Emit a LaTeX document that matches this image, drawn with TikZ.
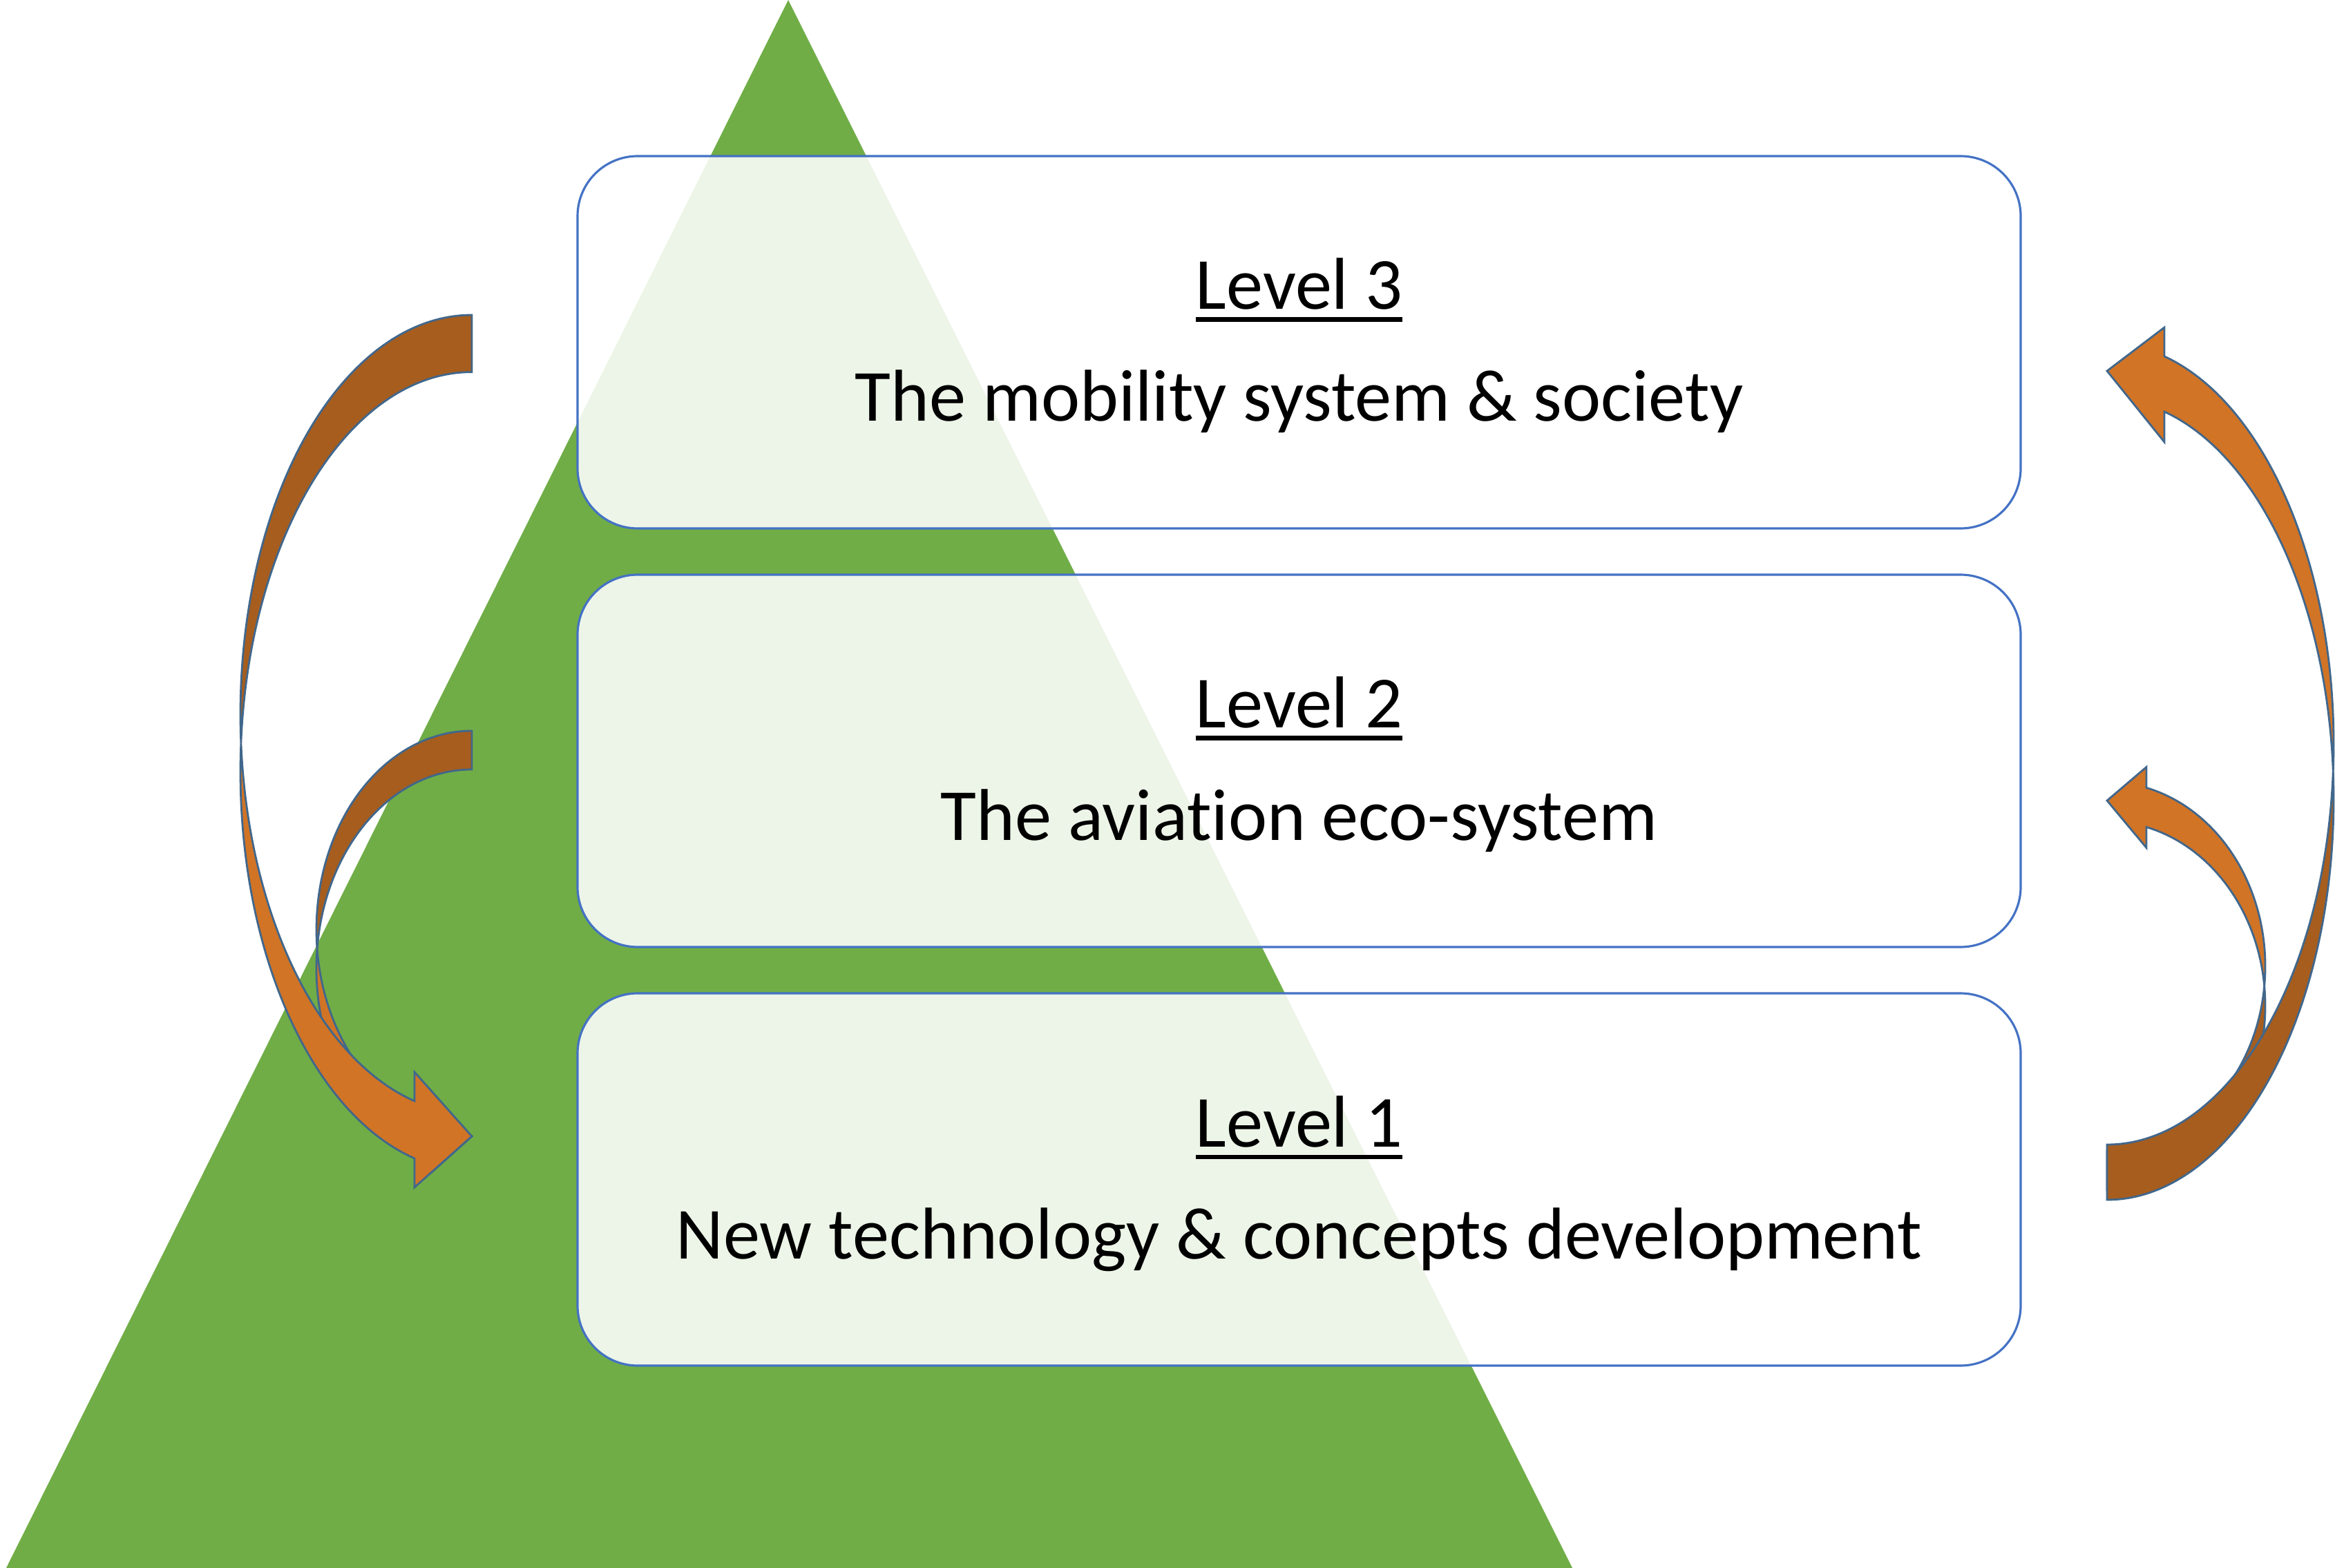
\documentclass[tikz,border=0pt]{standalone}
\usepackage{fontspec}
\setmainfont{Carlito}[Ligatures=NoCommon]
\usepackage{tikz}
\usetikzlibrary{positioning}

\definecolor{pyramidgreen}{RGB}{112,173,71}
\definecolor{boxblue}{RGB}{68,114,196}
\definecolor{arroworange}{RGB}{209,116,37}
\definecolor{arrowbrown}{RGB}{166,93,30}
\definecolor{arrowedge}{RGB}{65,103,140}

% heavier underline for the level titles
\newcommand{\levelul}[1]{%
    \setbox0\hbox{#1}%
    \rlap{\rule[-0.18cm]{\wd0}{0.065cm}}\box0}

\begin{document}
\begin{tikzpicture}[
    levelbox/.style={
        rectangle,
        rounded corners=0.87cm,
        draw=boxblue,
        line width=0.9pt,
        fill=white,
        fill opacity=0.88,
        minimum width=20.89cm,
        minimum height=5.39cm,
        inner sep=0pt
    },
    leveltitle/.style={
        anchor=base,
        font=\fontsize{30.25}{36}\selectfont
    },
    leveldesc/.style={
        anchor=base,
        font=\fontsize{30.25}{36}\selectfont
    },
    backband/.style={
        fill=arrowbrown,
        draw=arrowedge,
        line width=0.8pt
    },
    frontband/.style={
        fill=arroworange,
        draw=arrowedge,
        line width=0.8pt
    }
]
\useasboundingbox (0,0) rectangle (33.80,-22.70);

% Pyramid behind the levels
\fill[pyramidgreen] (11.41,0) -- (22.76,-22.70) -- (0.09,-22.70) -- cycle;

% Level boxes (see-through, so the pyramid shows faintly)
\node[levelbox] (lvl3) at (18.805,-4.955) {};
\node[levelbox] (lvl2) at (18.805,-11.015) {};
\node[levelbox] (lvl1) at (18.805,-17.075) {};

% Level titles and descriptions
\node[leveltitle] (title3) at (18.805,-4.48)  {\levelul{Level 3}};
\node[leveldesc]  (desc3)  at (18.805,-6.10)  {The mobility system \& society};
\node[leveltitle] (title2) at (18.805,-10.54) {\levelul{Level 2}};
\node[leveldesc]  (desc2)  at (18.805,-12.16) {The aviation eco-system};
\node[leveltitle] (title1) at (18.805,-16.60) {\levelul{Level 1}};
\node[leveldesc]  (desc1)  at (18.805,-18.22) {New technology \& concepts development};

% Left: small curved arrow, level 2 down to level 1
\begin{scope}[shift={(6.83,-13.46)}]
\path[backband] (90:2.25 and 2.88)
    arc[start angle=90, end angle=185.58, x radius=2.25, y radius=2.88]
    arc[start angle=174.42, end angle=90, x radius=2.25, y radius=2.88] -- cycle;
\path[frontband] (185.58:2.25 and 2.88)
    arc[start angle=185.58, end angle=255.33, x radius=2.25, y radius=2.88]
    -- (-0.57,-2.64) -- (0,-2.99) -- (-0.57,-3.50) -- (-0.57,-3.346)
    arc[start angle=255.33, end angle=174.42, x radius=2.25, y radius=2.88] -- cycle;
\end{scope}

% Left: big curved arrow, level 3 down to level 1
\begin{scope}[shift={(6.83,-10.34)}]
\path[backband] (90:3.35 and 5.78)
    arc[start angle=90, end angle=184.1, x radius=3.35, y radius=5.78]
    arc[start angle=175.9, end angle=90, x radius=3.35, y radius=5.78] -- cycle;
\path[frontband] (184.1:3.35 and 5.78)
    arc[start angle=184.1, end angle=255.65, x radius=3.35, y radius=5.78]
    -- (-0.83,-5.18) -- (0,-6.11) -- (-0.83,-6.85) -- (-0.83,-6.43)
    arc[start angle=255.65, end angle=175.9, x radius=3.35, y radius=5.78] -- cycle;
\end{scope}

% Right: small curved arrow, level 1 up to level 2
\begin{scope}[shift={(30.50,-13.99)}]
\path[backband] (-6.13:2.29 and 2.67)
    arc[start angle=-6.13, end angle=-90, x radius=2.29, y radius=2.67]
    -- (0,-3.24)
    arc[start angle=-90, end angle=6.13, x radius=2.29, y radius=2.67] -- cycle;
\path[frontband] (-6.13:2.29 and 2.67)
    arc[start angle=-6.13, end angle=75.59, x radius=2.29, y radius=2.67]
    -- (0.57,2.886) -- (0,2.40) -- (0.57,1.716) -- (0.57,2.016)
    arc[start angle=75.59, end angle=6.13, x radius=2.29, y radius=2.67] -- cycle;
\end{scope}

% Right: big curved arrow, level 1 up to level 3
\begin{scope}[shift={(30.50,-10.77)}]
\path[backband] (-3.96:3.28 and 5.80)
    arc[start angle=-3.96, end angle=-90, x radius=3.28, y radius=5.80]
    -- (0,-6.60)
    arc[start angle=-90, end angle=3.96, x radius=3.28, y radius=5.80] -- cycle;
\path[frontband] (-3.96:3.28 and 5.80)
    arc[start angle=-3.96, end angle=75.35, x radius=3.28, y radius=5.80]
    -- (0.83,6.03) -- (0,5.40) -- (0.83,4.37) -- (0.83,4.81)
    arc[start angle=75.35, end angle=3.96, x radius=3.28, y radius=5.80] -- cycle;
\end{scope}

\end{tikzpicture}
\end{document}
